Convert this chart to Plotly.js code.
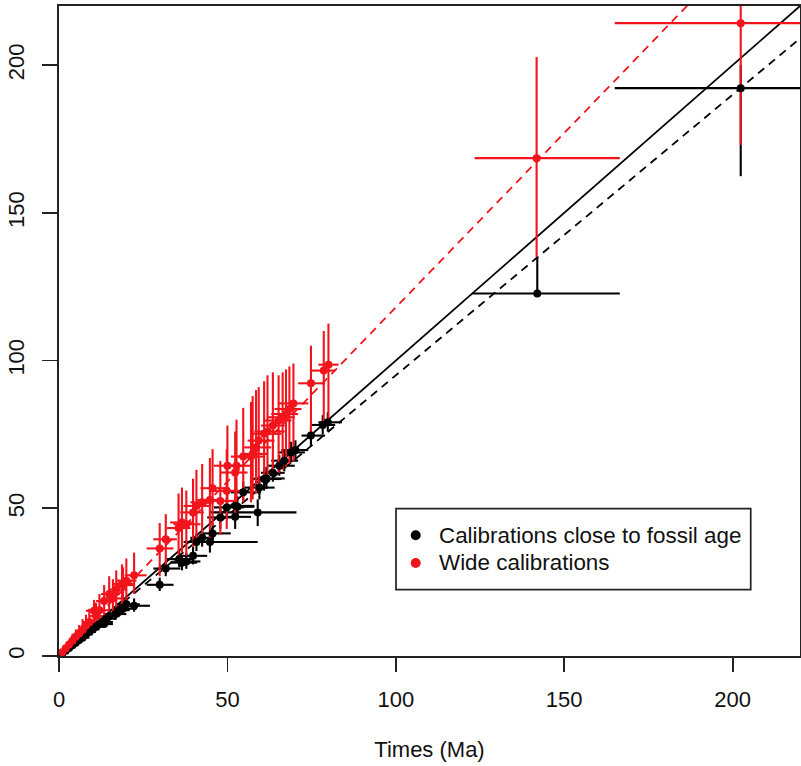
<!DOCTYPE html>
<html>
<head>
<meta charset="utf-8">
<script src="https://cdn.plot.ly/plotly-3.0.1.min.js"></script>
<style>html,body{margin:0;padding:0;background:#fff;}#chart{width:801px;height:766px;}</style>
</head>
<body>
<div id="chart"></div>
<script>
// ---- Calibrations close to fossil age (black) ----
const blackX   = [1,2,3,4,5,6,7,8,9,10,11,12,13,13.4,14,15,16.8,18,19,20,22.3,
                  29.9,31.7,35.7,36.5,37.8,39.8,40.8,42.5,44.8,45.6,47.9,49.8,52.3,52.5,53,59,54.7,59.5,60.9,61.6,63.5,65.4,66.9,68.9,70.2,74.8,78.3,79.8,
                  142,202.4];
const blackY   = [0.9,1.8,2.7,3.6,4.5,5.4,6.2,7.3,8.2,9,10,10.8,11.5,10.8,12.6,13.5,14.2,15.5,16,17.5,17,
                  24.1,29.6,32.8,31.6,32,33.9,38.6,40,38.6,41.5,46.9,50.3,47.1,50.8,50.5,48.6,55.4,57,59.9,60.1,62,64.4,66.1,68.9,69.7,74.6,78.2,79.1,
                  122.7,192.2];
const blackXlo = [0.5,1.2,2,3,3.5,4.5,5.5,6.5,7,8,9,10,11,11,12,13,14,15,16,17,19,
                  26,28,32,33,34,36,37,39,41,42,44,46,48,49,49,44.6,51,55,57,58,60,62,63,65,66,72,75,77,
                  122.8,165];
const blackXhi = [1.5,3,4,5.5,6.5,7.5,9,10,11,12,13.5,14,16,16,17,18,20,21,23,24,27,
                  34,36,40,41,42,44,46,46,59,51,53,55,57,58,58,70.5,60,64,66,67,67,70,71,73,74,79,82,84,
                  166.5,225];
const blackYlo = [0.7,1.4,2.2,3,3.8,4.6,5.3,6.2,7,7.8,8.6,9.3,10,9.5,11,11.8,12.3,13.5,14,15.3,15,
                  22,27,30,29,29.5,31,35.5,37,35,38,43,46.5,43,47,47,44,52,53,56,56.5,59,61,62.5,65.5,66,71,75,76,
                  122.7,162.4];
const blackYhi = [1.2,2.3,3.3,4.4,5.4,6.4,7.3,8.6,9.6,10.5,11.6,12.5,13.3,12.5,14.5,15.2,16.3,17.5,18,19.5,19.5,
                  26.5,32,35.5,34,35,37,41.5,43,42,45,50,53.5,51,54,54,53,59,61,63.5,64,65.5,68,69.5,72.5,73,78,81.5,82.5,
                  135,200];

// ---- Wide calibrations (red) ----
const redX   = [1,2,3,4,5,6,7,8,9,10.4,11,12,13.4,14.9,16,17,18.7,19,20,22.3,
                29.9,31.7,35.5,36.5,37.8,39.8,40.8,42.5,44.8,45.6,47.9,49.8,50,52.3,52.7,54.7,57,57.5,58.5,59.3,60.9,61.9,63.5,65.2,66.4,67.4,68.4,69.6,74.8,78.6,80,
                141.8,202.4];
const redY   = [1.3,2.6,3.9,5.2,6.5,7.6,8.8,10.2,11.5,15.3,13.5,15.5,18.6,21,19.5,22.5,24.4,24,25.5,27.3,
                36.4,39.5,43.3,45.2,44.6,48.6,50.8,52,52.8,56.8,52.5,55.9,64.4,62.1,64.4,67.5,67.5,68.4,70.6,72.9,75.2,76,78,79.7,80.8,81.9,83.6,85.5,92.3,96.6,98.6,
                168.5,214.2];
const redXlo = [0.5,1.3,2,3,3.5,4.5,5.5,6.5,7,8,9,10,11,12.5,13.5,15,16,16.5,17,19.5,
                26,28,32,33,34,36,37,39,41,42,44,46,46,48,49,51,53,54,55,56,57,58,60,61,62,63,64,65,71,75,77,
                123.4,165];
const redXhi = [1.8,3,4.5,6,7,8,9.5,10.5,12,13,14,15,16,18,19,20,22,22,23,26,
                34,35,39,40,42,43,45,46,49,50,52,54,55,56,57,59,61,62,63,64,66,67,67,69,70,71,72,74,79,82,83,
                166.5,225];
const redYlo = [0.9,1.8,2.8,3.6,4.5,5.5,6.5,7.5,8.5,10,10,11.5,13,15,14.5,16.5,18,17,19,21,
                27,30,33,35,34,37,39,40,40,44,41,43,50,48,50,52,52,53,55,57,59,60,62,62,63,64,65,66,75,77,78,
                135,173];
const redYhi = [2,3.8,5.5,7.5,9,10.5,12.5,14,16,19,18,21,24,27,26,29,31,30,33,35,
                45,48,55,57,56,60,63,65,67,70,66,70,78,76,80,84,86,88,90,91,93,95,96,95,96,97,98,99,105,110,112.5,
                202.7,225];

// fitted lines
const lineX = [0, 220];
const slopeIdentity = 1.0;
const slopeBlack = 0.95;
const slopeRed = 1.18;

const RED = '#f2141c';
const BLK = '#000000';
const FONT = 'Liberation Sans, Arial, Helvetica, sans-serif';

function plus(v, hi){ return v.map((x,i)=>hi[i]-x); }
function minus(v, lo){ return v.map((x,i)=>x-lo[i]); }

function errTrace(xs, ys, xlo, xhi, ylo, yhi, col){
  return {
    x: xs, y: ys, type: 'scatter', mode: 'markers', showlegend: false, hoverinfo: 'skip',
    marker: {size: 8, color: 'rgba(0,0,0,0)'},
    error_x: {type: 'data', symmetric: false, array: plus(xs, xhi), arrayminus: minus(xs, xlo), width: 0, thickness: 2.1, color: col},
    error_y: {type: 'data', symmetric: false, array: plus(ys, yhi), arrayminus: minus(ys, ylo), width: 0, thickness: 2.1, color: col},
    cliponaxis: true
  };
}

const traces = [
  {x: lineX, y: lineX.map(v=>v*slopeIdentity), type:'scatter', mode:'lines', line:{color:BLK, width:1.8}, showlegend:false, hoverinfo:'skip'},
  {x: lineX, y: lineX.map(v=>v*slopeBlack), type:'scatter', mode:'lines', line:{color:BLK, width:1.8, dash:'8px,6px'}, showlegend:false, hoverinfo:'skip'},
  {x: lineX, y: lineX.map(v=>v*slopeRed), type:'scatter', mode:'lines', line:{color:RED, width:1.8, dash:'8px,6px'}, showlegend:false, hoverinfo:'skip'},
  errTrace(blackX, blackY, blackXlo, blackXhi, blackYlo, blackYhi, BLK),
  errTrace(redX, redY, redXlo, redXhi, redYlo, redYhi, RED),
  {x: blackX, y: blackY, type:'scatter', mode:'markers', name:'Calibrations close to fossil age', marker:{size:8, color:BLK}, showlegend:false},
  {x: redX, y: redY, type:'scatter', mode:'markers', name:'Wide calibrations', marker:{size:8, color:RED}, showlegend:false}
];

const layout = {
  width: 801, height: 766,
  margin: {l: 59, r: 1, t: 6, b: 110},
  paper_bgcolor: '#fff', plot_bgcolor: '#fff',
  font: {family: FONT, size: 22, color: '#111'},
  showlegend: false,
  xaxis: {
    range: [0, 220], tickvals: [0,50,100,150,200], ticktext: ['0','50','100','150','200'],
    showgrid: false, zeroline: false, showline: true, mirror: true, linecolor: '#222', linewidth: 2,
    ticks: 'outside', ticklen: 14, tickwidth: 1.8, tickcolor: '#222', ticklabelstandoff: 9,
    tickfont: {size: 22, family: FONT, color: '#111'},
    title: {text: 'Times (Ma)', font: {size: 22, family: FONT, color: '#111'}, standoff: 30}
  },
  yaxis: {
    range: [0, 220], tickvals: [0,50,100,150,200], ticktext: ['0','50','100','150','200'],
    showgrid: false, zeroline: false, showline: true, mirror: true, linecolor: '#222', linewidth: 2,
    ticks: 'outside', ticklen: 15, tickwidth: 1.8, tickcolor: '#222', tickangle: -90, ticklabelstandoff: 9,
    tickfont: {size: 22, family: FONT, color: '#111'}
  },
  shapes: [
    {type:'rect', xref:'paper', yref:'paper', x0:0.4548, x1:0.9335, y0:0.1022, y1:0.2268, line:{color:'#222', width:1.7}, fillcolor:'#fff', layer:'above'},
    {type:'circle', xref:'paper', yref:'paper', xsizemode:'pixel', ysizemode:'pixel', xanchor:0.4814, yanchor:0.1857, x0:-5, x1:5, y0:-5, y1:5, fillcolor:BLK, line:{width:0}, layer:'above'},
    {type:'circle', xref:'paper', yref:'paper', xsizemode:'pixel', ysizemode:'pixel', xanchor:0.4814, yanchor:0.1431, x0:-5, x1:5, y0:-5, y1:5, fillcolor:RED, line:{width:0}, layer:'above'}
  ],
  annotations: [
    {xref:'paper', yref:'paper', x:0.5105, y:0.1857, xanchor:'left', yanchor:'middle', showarrow:false, text:'Calibrations close to fossil age', font:{size:22.4, family:FONT, color:'#111'}},
    {xref:'paper', yref:'paper', x:0.5105, y:0.1431, xanchor:'left', yanchor:'middle', showarrow:false, text:'Wide calibrations', font:{size:22.4, family:FONT, color:'#111'}}
  ]
};

Plotly.newPlot('chart', traces, layout, {displayModeBar: false, staticPlot: true});
</script>
</body>
</html>
